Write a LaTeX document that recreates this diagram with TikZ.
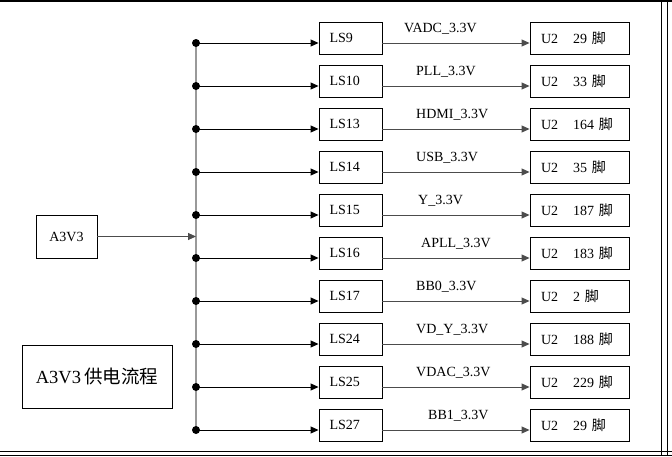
\documentclass[tikz,border=0pt]{standalone}
\usepackage{fontspec}
\setmainfont{Liberation Serif}
\newfontfamily\cjk{Noto Sans CJK SC}
\usetikzlibrary{arrows.meta}

\begin{document}
\begin{tikzpicture}[x=1pt,y=-1pt,font=\fontsize{14}{16}\selectfont,
  box/.style={draw,line width=0.9pt,minimum height=32pt,align=left,inner ysep=0pt},
  wire/.style={draw=black!70,line width=0.9pt,-{Triangle[length=8pt,width=7pt]}}]
  \useasboundingbox (0,0) rectangle (672,456);
  \draw[line width=1.5pt] (0,1) -- (672,1);
  \draw[line width=1pt] (661,0) -- (661,456) (667,0) -- (667,456);
  \draw[line width=1pt] (0,451) -- (672,451) (0,455) -- (672,455);
  \node[box,minimum width=61pt,minimum height=43pt] (a3v3) at (66.5,236.5) {A3V3};
  \node[box,minimum width=150pt,minimum height=63pt,font=\fontsize{18.5}{20}\selectfont]
    (title) at (97,376.5) {A3V3\,{\cjk 供电流程}};
  \foreach \ls/\rail/\lx/\pin [count=\k] in {9/VADC\_3.3V/404/29, 10/PLL\_3.3V/416/33,
      13/HDMI\_3.3V/416/164, 14/USB\_3.3V/416/35, 15/Y\_3.3V/418/187,
      16/APLL\_3.3V/421/183, 17/BB0\_3.3V/416/2, 24/VD\_Y\_3.3V/416/188,
      25/VDAC\_3.3V/416/229, 27/BB1\_3.3V/428/29} {
    \pgfmathsetmacro\y{43*\k}
    \coordinate (dot\k) at (196,\y);
    \node[box,text width=42pt,inner xsep=10.5pt] (ls\k) at (350.5,\y-5) {LS\ls};
    \node[box,text width=77pt,inner xsep=11pt] (pin\k) at (579.5,\y-5) {U2\hspace{15pt}\pin\ {\cjk 脚}};
    \node[anchor=base west,inner sep=0pt] (rail\k) at (\lx,\y-10.5) {\rail};
    \draw[wire,draw=black] (dot\k) -- (dot\k -| ls\k.west);
    \draw[wire] (ls\k.east |- dot\k) -- (pin\k.west |- dot\k);
  }
  \coordinate (bus) at (196,236.5);
  \draw[black!40,line width=1.2pt] (dot1) -- (dot10);
  \draw[wire] (a3v3.east) -- (bus);
  \foreach \k in {1,...,10} \fill (dot\k) circle (4pt);
\end{tikzpicture}
\end{document}
